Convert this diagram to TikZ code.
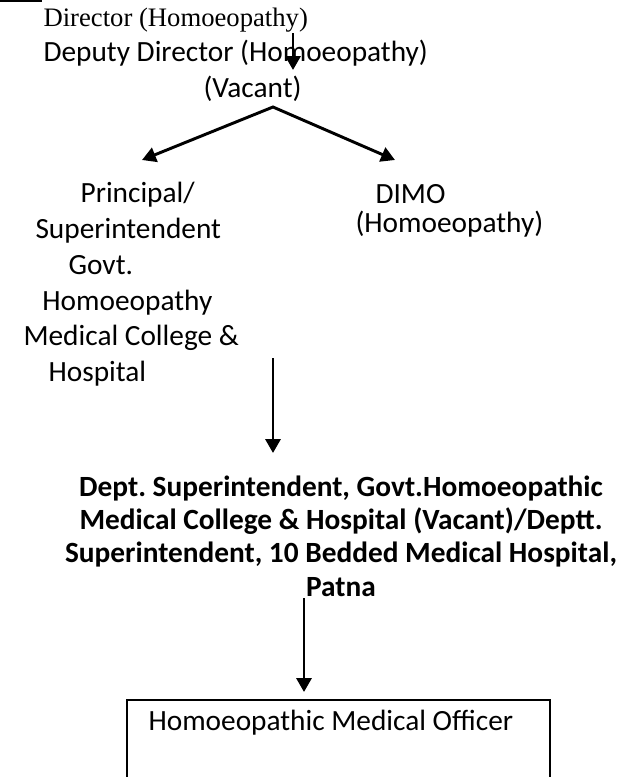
\documentclass[tikz,border=0pt]{standalone}
\usepackage{fontspec}
\setmainfont{Carlito}
\newfontfamily\headserif{Liberation Serif}
\usetikzlibrary{arrows.meta}
\frenchspacing

\tikzset{
  post/.style={inner sep=0pt, font=\fontsize{11}{13.4}\selectfont},
  flow/.style={line width=1.1pt, -{Triangle[width=5.6pt,length=5.2pt]}},
  split/.style={line width=1.1pt, line join=miter,
    {Triangle[width=5.6pt,length=5.2pt]}-{Triangle[width=5.6pt,length=5.2pt]}},
  frame/.style={line width=0.75pt}
}

\begin{document}
\begin{tikzpicture}[x=0.375pt, y=-0.375pt]
\useasboundingbox (0,0) rectangle (634,777);
% top
\draw[frame] (0,1) -- (42,1);
\node[post, anchor=base west, font=\fontsize{10}{12}\headserif] (dir) at (43,26) {Director (Homoeopathy)};
\node[post, anchor=north west, align=left] (ddir) at (43,40) {Deputy Director (Homoeopathy)\\\hspace*{60pt}(Vacant)};
\coordinate (d1) at (293,33);
\coordinate (d2) at (293,70);
\draw[flow] (d1) -- (d2);
% second level
\coordinate (v) at (273,107);
\coordinate (vl) at (142,160);
\coordinate (vr) at (395,160);
\draw[split] (vl) -- (v) -- (vr);
\node[post, anchor=north west, align=left] (prin) at (23,182) {\hspace*{21.4pt}Principal/\\\hspace*{4.5pt}Superintendent\\\hspace*{16.9pt}Govt.\\\hspace*{7.1pt}Homoeopathy\\Medical College \&\\\hspace*{9.4pt}Hospital};
\node[post, anchor=north west, align=left, font=\fontsize{11}{10.9}\selectfont] (dimo) at (355,184) {\hspace*{7.5pt}DIMO\\(Homoeopathy)};
% third level
\coordinate (p1) at (273,358);
\coordinate (p2) at (273,453);
\draw[flow] (p1) -- (p2);
\node[post, anchor=north, align=center, font=\bfseries\fontsize{11}{12.5}\selectfont] (dsup) at (341,475) {Dept. Superintendent, Govt.Homoeopathic\\Medical College \& Hospital (Vacant)/Deptt.\\Superintendent, 10 Bedded Medical Hospital,\\Patna};
\coordinate (s1) at (304,598);
\coordinate (s2) at (304,692);
\draw[flow] (s1) -- (s2);
% bottom box
\draw[frame] (127,777) |- (550,700) -- (550,777);
\node[post, anchor=base west] (hmo) at (148,730) {Homoeopathic Medical Officer};
\end{tikzpicture}
\end{document}
